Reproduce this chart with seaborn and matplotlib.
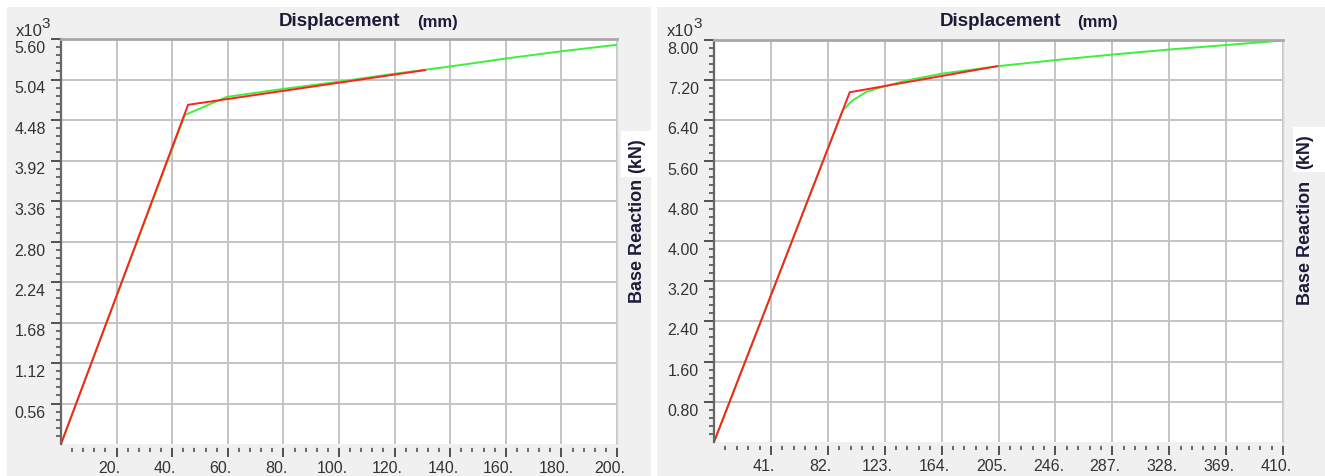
import numpy as np
import pandas as pd
import seaborn as sns
import matplotlib
matplotlib.use("Agg")
import matplotlib.pyplot as plt
from matplotlib.ticker import FixedLocator
from matplotlib.transforms import ScaledTranslation
from matplotlib.patches import Rectangle

# ---------------- data ----------------
left_push_disp = [0, 44.6, 59.7, 80, 100, 120, 140, 160, 180, 200]
left_push_base = [0, 4.55, 4.80, 4.91, 5.01, 5.12, 5.22, 5.33, 5.43, 5.52]
left_bi_disp = [0, 45.7, 131]
left_bi_base = [0, 4.69, 5.17]

right_push_disp = [0, 92.8, 100, 110, 123, 140, 164, 205, 246, 287, 328, 369, 410]
right_push_base = [0, 6.60, 6.80, 6.97, 7.08, 7.20, 7.33, 7.48, 7.60, 7.71, 7.81, 7.90, 7.99]
right_bi_disp = [0, 97.8, 204.3]
right_bi_base = [0, 6.96, 7.48]

left_xticks = [20, 40, 60, 80, 100, 120, 140, 160, 180, 200]
left_yticks = [0.56, 1.12, 1.68, 2.24, 2.80, 3.36, 3.92, 4.48, 5.04, 5.60]
right_xticks = [41, 82, 123, 164, 205, 246, 287, 328, 369, 410]
right_yticks = [0.80, 1.60, 2.40, 3.20, 4.00, 4.80, 5.60, 6.40, 7.20, 8.00]

title_text = "Displacement"
title_unit = "(mm)"
ylabel_text = "Base Reaction"
ylabel_unit = "(kN)"

# ---------------- style ----------------
sns.set_theme(style="white")
plt.rcParams["font.family"] = ["Liberation Sans", "DejaVu Sans"]

W, H = 1325, 477
fig = plt.figure(figsize=(W / 100, H / 100), dpi=100, facecolor="white")


def fx(px):
    return px / W


def fy(py):
    return 1 - py / H


BG = "#f0f0f0"
TXT = "#1c1c38"

# panel backgrounds
for x0, x1 in [(7, 651), (657, 1325)]:
    fig.patches.append(Rectangle((fx(x0), 0), fx(x1) - fx(x0), fy(8), transform=fig.transFigure,
                                 facecolor=BG, edgecolor="none", zorder=-2))
# white boxes behind "(kN)"
for x0, y0, x1, y1 in [(621, 132, 651, 178), (1293, 128, 1325, 173)]:
    fig.patches.append(Rectangle((fx(x0), fy(y1)), fx(x1) - fx(x0), fy(y0) - fy(y1),
                                 transform=fig.transFigure, facecolor="white",
                                 edgecolor="none", zorder=-1))

axL = fig.add_axes([fx(61), fy(445), fx(617) - fx(61), fy(40) - fy(445)])
axR = fig.add_axes([fx(714), fy(443), fx(1283) - fx(714), fy(41) - fy(443)])


def style_axis(ax, xticks, yticks, xmax, ymax, xminor, yminor):
    ax.set_facecolor("white")
    ax.set_xlim(0, xmax)
    ax.set_ylim(0, ymax)
    ax.set_xticks(xticks)
    ax.set_xticklabels([f"{v:d}." for v in xticks], ha="right")
    ax.set_yticks(yticks)
    ax.set_yticklabels([f"{v:.2f}" for v in yticks])
    ax.xaxis.set_minor_locator(FixedLocator(xminor))
    ax.yaxis.set_minor_locator(FixedLocator(yminor))
    ax.grid(True, which="major", color="#c4c4c4", lw=1.4)
    ax.set_axisbelow(True)
    ax.tick_params(axis="both", which="major", direction="out", length=7.5, width=1.3,
                   color="#444444", labelsize=11.5, labelcolor="#333333",
                   bottom=True, left=True)
    ax.tick_params(axis="both", which="minor", direction="out", length=3.5, width=1.1,
                   color="#444444", bottom=True, left=True)
    ax.tick_params(axis="x", pad=2)
    ax.tick_params(axis="y", pad=3.5)
    ax.spines["top"].set_color("#a8a8a8")
    ax.spines["top"].set_linewidth(2)
    ax.spines["left"].set_color("#666666")
    ax.spines["left"].set_linewidth(1.6)
    ax.spines["right"].set_color("#d4d4d4")
    ax.spines["right"].set_linewidth(1)
    ax.spines["bottom"].set_position(("outward", 2))
    ax.spines["bottom"].set_color(BG)
    ax.set_xlabel("")
    ax.set_ylabel("")
    for t in ax.xaxis.get_major_ticks():
        t.label1.set_transform(t.label1.get_transform() +
                               ScaledTranslation(-7 / 100, 0, fig.dpi_scale_trans))
    for t in ax.yaxis.get_major_ticks():
        t.label1.set_transform(t.label1.get_transform() +
                               ScaledTranslation(0, -7 / 100, fig.dpi_scale_trans))


GREEN = "#3cf03c"
RED = "#ff2020"

sns.lineplot(x=left_push_disp, y=left_push_base, ax=axL, color=GREEN, lw=1.4,
             sort=False, estimator=None)
sns.lineplot(x=left_bi_disp, y=left_bi_base, ax=axL, color=RED, lw=1.4,
             sort=False, estimator=None)
sns.lineplot(x=right_push_disp, y=right_push_base, ax=axR, color=GREEN, lw=1.4,
             sort=False, estimator=None)
sns.lineplot(x=right_bi_disp, y=right_bi_base, ax=axR, color=RED, lw=1.4,
             sort=False, estimator=None)

style_axis(axL, left_xticks, left_yticks, 200, 5.60,
           np.arange(4, 200, 4), np.arange(0.112, 5.6, 0.112))
style_axis(axR, right_xticks, right_yticks, 410, 8.00,
           np.arange(8.2, 410, 8.2), np.arange(0.16, 8.0, 0.16))

# titles
for cx, ux in [(340, 437), (1000, 1098)]:
    fig.text(fx(cx), fy(22), title_text, ha="center", va="center", fontsize=13.5,
             fontweight="bold", color=TXT)
    fig.text(fx(ux), fy(22), title_unit, ha="center", va="center", fontsize=12,
             fontweight="bold", color=TXT)

# y labels (on the right of each panel)
for cx, by, uy in [(637, 241, 156), (1305, 243, 152)]:
    fig.text(fx(cx), fy(by), ylabel_text, rotation=90, ha="center", va="center",
             fontsize=13, fontweight="bold", color=TXT)
    fig.text(fx(cx), fy(uy), ylabel_unit, rotation=90, ha="center", va="center",
             fontsize=13, fontweight="bold", color=TXT)

# x10^3 multipliers
for x10, x3 in [(29, 46), (680, 698)]:
    fig.text(fx(x10), fy(32), "x10", ha="center", va="center", fontsize=12, color="#333333")
    fig.text(fx(x3), fy(24), "3", ha="center", va="center", fontsize=11, color="#333333")

fig.savefig("out.png", dpi=100, facecolor="white")
